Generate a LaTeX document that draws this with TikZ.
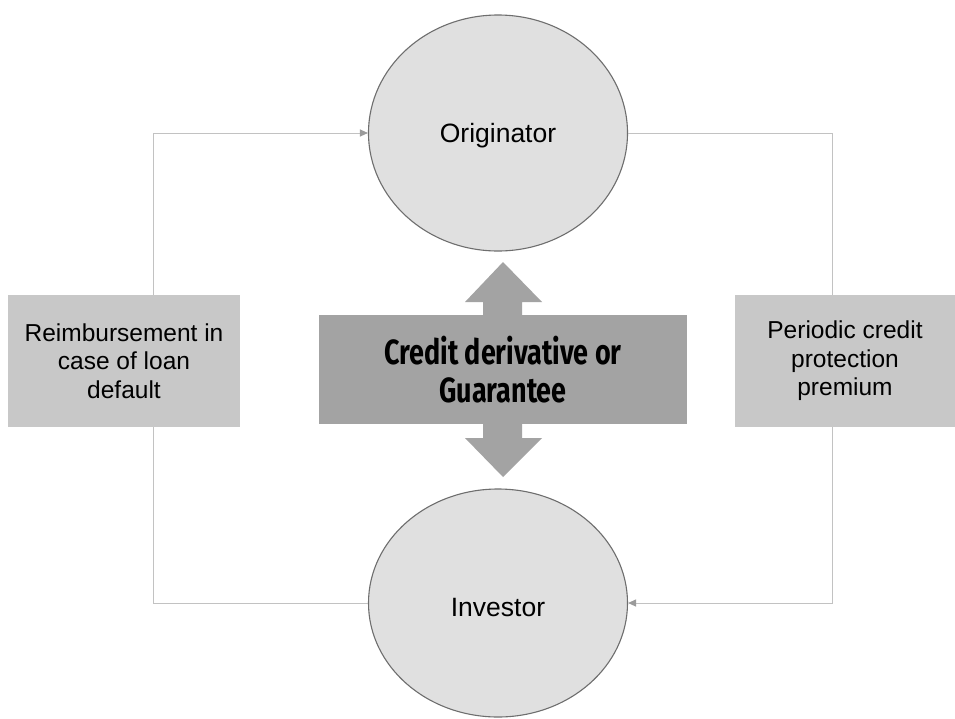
\documentclass[tikz,border=0pt]{standalone}
\usepackage{fontspec}
\setmainfont{Liberation Sans}
\newfontfamily\condbold[FakeStretch=0.77]{Fira Sans Bold}
\usetikzlibrary{shapes.geometric,arrows.meta}
\definecolor{ellfill}{HTML}{E0E0E0}
\definecolor{elldraw}{HTML}{6E6E6E}
\definecolor{boxfill}{HTML}{C8C8C8}
\definecolor{darkfill}{HTML}{A3A3A3}
\definecolor{linecol}{HTML}{C2C2C2}
\tikzset{
  party/.style={ellipse, fill=ellfill, draw=elldraw, line width=1.1pt,
    minimum width=259pt, minimum height=236pt, inner sep=0pt},
  partytext/.style={font=\fontsize{26.5}{30}\selectfont, inner sep=0pt},
  sidebox/.style={rectangle, fill=boxfill, inner sep=0pt, align=center,
    minimum height=132pt, font=\fontsize{24.5}{28.5}\selectfont},
  centerbox/.style={rectangle, fill=darkfill, inner sep=0pt, align=center,
    minimum width=368pt, minimum height=109pt,
    font=\condbold\fontsize{35}{38}\selectfont},
  conn/.style={draw=linecol, line width=1pt,
    arrows={-{Triangle[length=8pt,width=7pt,color=linecol!80!black]}}},
}
\begin{document}
\begin{tikzpicture}[x=1pt,y=-1pt]
\useasboundingbox (0,0) rectangle (955,718);
\fill[white] (0,0) rectangle (955,718);
\coordinate (lx) at (153,0);
\coordinate (rx) at (832,0);
\node[party, label={[partytext, yshift=-3pt]center:Originator}] (orig) at (498,133) {};
\node[party, minimum height=228pt, label={[partytext, yshift=-5pt]center:Investor}] (inv) at (498,603) {};
% connectors
\draw[conn] (inv.west) -- (inv.west -| lx) -- (orig.west -| lx) -- (orig.west);
\draw[conn] (orig.east) -- (orig.east -| rx) -- (inv.east -| rx) -- (inv.east);
% side boxes
\node[sidebox, minimum width=232pt] (reimb) at (124,361) {Reimbursement in\\case of loan\\default};
\node[sidebox, minimum width=220pt] (prem) at (845,361) {Periodic credit\\protection\\premium};
% central double arrow
\fill[darkfill] (483,318) -- (483,302) -- (465,302) -- (503,262) -- (542,302) -- (522,302) -- (522,318) -- cycle;
\fill[darkfill] (483,420) -- (483,438) -- (465,438) -- (503,477) -- (542,438) -- (522,438) -- (522,420) -- cycle;
\node[centerbox] (cd) at (503,369.5) {Credit derivative or\\Guarantee};
\end{tikzpicture}
\end{document}
